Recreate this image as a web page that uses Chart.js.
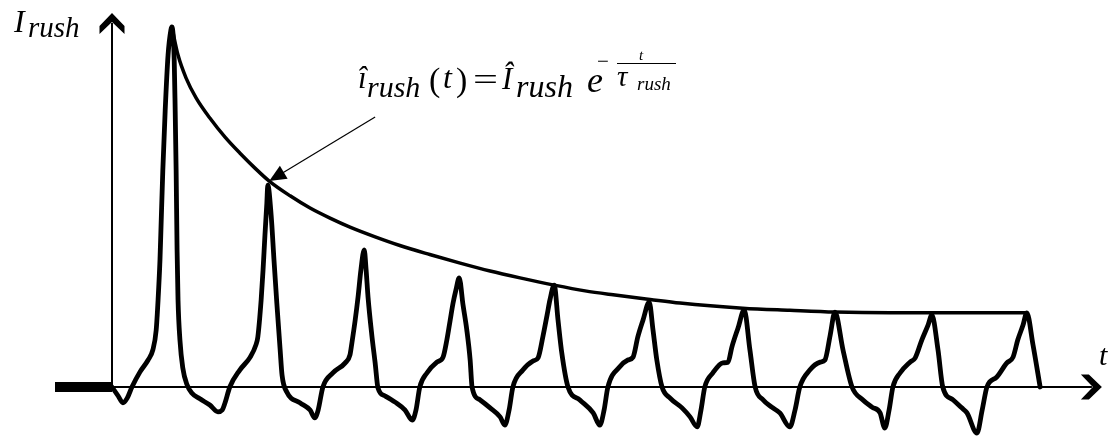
<!DOCTYPE html>
<html>
<head>
<meta charset="utf-8">
<title>Inrush current</title>
<script src="https://cdn.jsdelivr.net/npm/chart.js@4.4.1/dist/chart.umd.min.js"></script>
<style>
  html, body { margin: 0; padding: 0; background: #ffffff; }
  #wrap { width: 1112px; height: 438px; position: relative; }
</style>
</head>
<body>
<div id="wrap"><canvas id="c"></canvas></div>
<script>
// Time in ms (50 Hz supply), current in % of the first peak.
const waveT = [
  0, 1.3, 2.3, 3.2, 4.2, 5.9, 7.6, 8.6, 9.3, 9.7, 10.1, 10.3, 10.7, 11.2, 11.8, 12.4, 12.6,
  13.1, 13.3, 13.5, 13.7, 13.9, 14.3, 14.9, 15.8, 16.8, 18.5, 20.6, 22.3, 23.2, 23.8, 24.8,
  26.9, 29.1, 30.3, 30.7, 31.4, 31.8, 32.2, 32.6, 32.8,
  33.5, 34.1, 34.7, 35.4, 35.8, 36.8, 39.6, 41.7, 42.7, 43.4, 44.4, 46.5, 49.1, 50.1, 50.5,
  51.2, 51.8, 52.4, 53.1,
  53.5, 53.9, 54.7, 55.4, 56.0, 57.5, 59.6, 61.7, 63.2, 64.0, 64.8, 66.3, 68.4, 69.7, 70.5,
  71.2, 71.8, 72.4, 73.1,
  73.9, 74.7, 75.4, 75.8, 77.5, 79.6, 81.7, 82.7, 83.6, 84.4, 86.5, 88.6, 89.7, 90.7, 91.6,
  92.2, 93.1,
  93.9, 94.7, 96.0, 98.5, 101.3, 102.7, 103.6, 104.4, 106.9, 108.6, 109.7, 110.7, 111.8, 113.1,
  113.9, 114.7, 115.8, 117.5, 120.0, 121.7, 123.2, 124.0, 124.8, 126.5, 128.6, 129.7, 130.5,
  131.8, 133.1,
  134.3, 135.4, 137.1, 138.9, 140.6, 142.7, 143.8, 144.8, 146.9, 149.1, 150.1, 151.2, 152.2,
  153.9, 155.8, 158.1, 160.0, 161.7, 162.7, 163.6, 164.4, 165.9, 168.0, 169.1, 170.5, 171.8,
  172.6,
  173.9, 174.9, 177.1, 178.9, 180.0, 182.1, 183.2, 184.2, 186.3, 188.4, 189.7, 190.7, 191.8,
  192.6,
  193.9, 195.4
];
const waveI = [
  0, -2.5, -4.4, -3.1, 0, 4.2, 7.5, 10.3, 15.8, 24.2, 35.3, 43.6, 60.3, 76.9, 92.2, 99.2, 100,
  90.8, 76.9, 60.3, 38.1, 24.2, 13.1, 5.3, 0.6, -1.7, -3.3, -5.0, -6.9, -6.4, -4.4, 0,
  4.7, 8.3, 11.7, 13.9, 24.2, 32.5, 42.2, 51.1, 56.1,
  47.8, 35.3, 23.3, 10.3, 3.3, -1.4, -4.4, -6.4, -8.6, -6.4, 0, 3.9, 6.7, 8.9, 12.2,
  18.6, 25.0, 32.5, 38.1,
  32.5, 25.0, 14.4, 6.7, -0.3, -2.5, -4.2, -6.4, -9.2, -6.4, 0, 3.9, 6.9, 8.3, 13.1,
  18.6, 23.3, 26.9, 30.3,
  22.8, 15.8, 7.5, 0, -3.6, -5.8, -8.3, -10.6, -6.4, 0, 4.7, 7.2, 8.1, 13.9, 20.0,
  24.2, 28.3,
  18.6, 9.4, 0, -3.6, -7.2, -10.6, -6.4, 0, 5.6, 7.5, 8.3, 13.9, 18.6, 23.6,
  15.8, 7.5, 0, -3.1, -5.8, -8.3, -11.1, -6.4, 0, 3.9, 6.7, 6.9, 11.1,
  16.4, 21.4,
  10.3, 0, -3.6, -5.6, -7.2, -11.1, -6.4, 0, 4.7, 6.9, 7.5, 14.4, 20.8,
  10.3, 0, -3.6, -5.6, -7.2, -11.4, -6.4, 0, 3.9, 6.9, 8.1, 13.1, 17.2,
  20.0,
  10.3, 0, -3.6, -5.8, -7.2, -12.8, -6.4, 0, 2.8, 6.7, 8.3, 13.1, 17.2,
  20.6,
  11.7, 0
];

// Envelope of the peaks, i_rush(t) = I_rush * exp(-t / tau_rush)
const envT = [12.6, 13.9, 15.6, 17.7, 20.6, 23.8, 26.9, 30.1, 33.1, 37.5, 41.7, 45.9, 50.1, 55.4,
  60.6, 66.9, 73.3, 79.6, 85.9, 93.1, 99.6, 105.5, 113.3, 119.6, 132.8, 142.7, 152.2, 163.8, 192.6];
const envI = [100, 92.2, 85.8, 80.3, 74.7, 69.4, 65.0, 60.8, 57.2, 53.1, 49.7, 46.9, 44.4, 41.7,
  39.3, 36.8, 34.4, 32.2, 30.3, 28.3, 26.7, 25.6, 24.3, 23.3, 21.9, 21.3, 20.8, 20.6, 20.6];

// Zero current before the transformer is switched on
const leadT = [-12.0, 0];
const leadI = [0, 0];

// Axis extents and the pointer to the envelope
const axisEnd = { t: 208.4, i: 103.9 };
const pointerTail = { t: 55.4, i: 75.0 };
const pointerTip = { t: 33.1, i: 57.2 };

const toXY = (ts, is) => ts.map((t, k) => ({ x: t, y: is[k] }));

const serif = '"Liberation Serif", "Times New Roman", serif';

function put(ctx, s, x, y, size, italic, stretch) {
  ctx.font = (italic ? 'italic ' : '') + size + 'px ' + serif;
  if (stretch) {
    const w = ctx.measureText(s).width;
    ctx.save();
    ctx.translate(x, y);
    ctx.scale(stretch / w, 1);
    ctx.fillText(s, 0, 0);
    ctx.restore();
  } else {
    ctx.fillText(s, x, y);
  }
}

// Chevron arrowhead: tip at (x,y), direction (dx,dy) unit vector
function chevron(ctx, x, y, dx, dy) {
  const nx = -dy, ny = dx;
  const outer = 13, inner = 21, notch = 9, half = 12.5;
  ctx.beginPath();
  ctx.moveTo(x, y);
  ctx.lineTo(x - dx * outer + nx * half, y - dy * outer + ny * half);
  ctx.lineTo(x - dx * inner + nx * half, y - dy * inner + ny * half);
  ctx.lineTo(x - dx * notch, y - dy * notch);
  ctx.lineTo(x - dx * inner - nx * half, y - dy * inner - ny * half);
  ctx.lineTo(x - dx * outer - nx * half, y - dy * outer - ny * half);
  ctx.closePath();
  ctx.fill();
}

const diagram = {
  id: 'diagram',
  beforeDatasetsDraw(chart) {
    const { ctx, scales: { x, y } } = chart;
    const x0 = x.getPixelForValue(0), y0 = y.getPixelForValue(0);
    const xe = x.getPixelForValue(axisEnd.t), ye = y.getPixelForValue(axisEnd.i);
    ctx.save();
    ctx.strokeStyle = '#000';
    ctx.fillStyle = '#000';
    ctx.lineWidth = 2;
    ctx.beginPath();
    ctx.moveTo(x0, y0);
    ctx.lineTo(xe - 10, y0);
    ctx.moveTo(x0, y0);
    ctx.lineTo(x0, ye + 10);
    ctx.stroke();
    chevron(ctx, xe, y0, 1, 0);
    chevron(ctx, x0, ye, 0, -1);
    ctx.restore();
  },
  afterDatasetsDraw(chart) {
    const { ctx, scales: { x, y }, chartArea: a } = chart;
    ctx.save();
    ctx.fillStyle = '#000';
    ctx.strokeStyle = '#000';
    ctx.textBaseline = 'alphabetic';

    // pointer from the formula to the envelope
    const tx = x.getPixelForValue(pointerTail.t), ty = y.getPixelForValue(pointerTail.i);
    const hx = x.getPixelForValue(pointerTip.t), hy = y.getPixelForValue(pointerTip.i);
    const len = Math.hypot(tx - hx, ty - hy);
    const ux = (tx - hx) / len, uy = (ty - hy) / len;
    const headL = 17, headW = 7.5;
    ctx.lineWidth = 1.2;
    ctx.beginPath();
    ctx.moveTo(tx, ty);
    ctx.lineTo(hx + ux * headL * 0.8, hy + uy * headL * 0.8);
    ctx.stroke();
    ctx.beginPath();
    ctx.moveTo(hx, hy);
    ctx.lineTo(hx + ux * headL - uy * headW, hy + uy * headL + ux * headW);
    ctx.lineTo(hx + ux * headL + uy * headW, hy + uy * headL - ux * headW);
    ctx.closePath();
    ctx.fill();

    const L = a.left, T = a.top;
    // axis names
    put(ctx, 'I', L + 14, T + 32, 32, true);
    put(ctx, 'rush', L + 28, T + 37, 29, true);
    put(ctx, 't', L + 1099, T + 365, 30, true);

    // formula
    put(ctx, 'î', L + 358, T + 88, 31, true);
    put(ctx, 'rush', L + 367, T + 97, 30, true);
    put(ctx, '(', L + 429, T + 91, 34, false);
    put(ctx, 't', L + 443, T + 88, 32, true);
    put(ctx, ')', L + 456, T + 91, 34, false);
    put(ctx, '=', L + 473, T + 90, 31, false, 25);
    put(ctx, 'Î', L + 502, T + 89, 31, true);
    put(ctx, 'rush', L + 516, T + 97, 32, true);
    put(ctx, 'e', L + 587, T + 92, 36, true);
    put(ctx, '−', L + 597, T + 68, 21, false);
    ctx.lineWidth = 1;
    ctx.beginPath();
    ctx.moveTo(L + 617, T + 63.5);
    ctx.lineTo(L + 676, T + 63.5);
    ctx.stroke();
    put(ctx, 't', L + 639, T + 60, 15, true);
    put(ctx, 'τ', L + 617, T + 86, 29, true);
    put(ctx, 'rush', L + 637, T + 90, 19, true);
    ctx.restore();
  }
};

new Chart(document.getElementById('c'), {
  type: 'line',
  data: {
    datasets: [
      {
        data: toXY(leadT, leadI),
        borderColor: '#000',
        borderWidth: 10,
        borderCapStyle: 'butt',
        pointRadius: 0
      },
      {
        data: toXY(waveT, waveI),
        borderColor: '#000',
        borderWidth: 4.8,
        borderJoinStyle: 'round',
        borderCapStyle: 'round',
        cubicInterpolationMode: 'monotone',
        pointRadius: 0
      },
      {
        data: toXY(envT, envI),
        borderColor: '#000',
        borderWidth: 3.5,
        borderCapStyle: 'round',
        cubicInterpolationMode: 'monotone',
        pointRadius: 0
      }
    ]
  },
  options: {
    responsive: true,
    maintainAspectRatio: false,
    animation: false,
    layout: { padding: 0 },
    plugins: { legend: { display: false }, tooltip: { enabled: false } },
    elements: { line: { fill: false } },
    scales: {
      x: { type: 'linear', min: -23.58, max: 210.53, display: false },
      y: { type: 'linear', min: -14.17, max: 107.5, display: false }
    }
  },
  plugins: [diagram]
});
</script>
</body>
</html>
